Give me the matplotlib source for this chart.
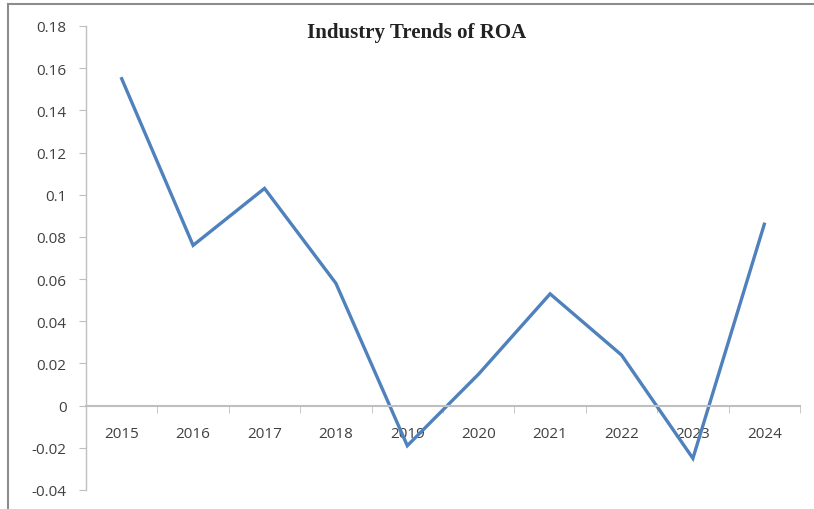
import matplotlib.pyplot as plt
from matplotlib.lines import Line2D

years = ['2015', '2016', '2017', '2018', '2019', '2020', '2021', '2022', '2023', '2024']
roa = [0.155, 0.076, 0.103, 0.058, -0.019, 0.015, 0.053, 0.024, -0.025, 0.086]
yticks = [-0.04, -0.02, 0, 0.02, 0.04, 0.06, 0.08, 0.1, 0.12, 0.14, 0.16, 0.18]
ylabels = ['-0.04', '-0.02', '0', '0.02', '0.04', '0.06', '0.08', '0.1', '0.12', '0.14', '0.16', '0.18']

fig = plt.figure(figsize=(8.14, 5.1), dpi=100)
ax = fig.add_axes([86 / 814, 1 - 491 / 510, (800 - 86) / 814, (491 - 27) / 510])

x = list(range(len(years)))
ax.plot(x, roa, color='#4F81BD', linewidth=2.4, solid_joinstyle='miter')

ax.set_xlim(-0.5, len(years) - 0.5)
ax.set_ylim(-0.04, 0.18)

# y axis
ax.set_yticks(yticks)
ax.set_yticklabels(ylabels, fontfamily='Open Sans', fontsize=11, color='#404040')
ax.tick_params(axis='y', length=5, color='#BFBFBF', pad=9)

# x axis sits on zero, ticks between categories
ax.spines['bottom'].set_position(('data', 0))
ax.set_xticks(x)
ax.set_xticklabels(years, fontfamily='Open Sans', fontsize=11, color='#404040')
ax.tick_params(axis='x', which='major', length=0, pad=15)
ax.set_xticks([i - 0.5 for i in range(len(years) + 1)], minor=True)
ax.tick_params(axis='x', which='minor', length=5, color='#BFBFBF', direction='out')

for s in ['top', 'right']:
    ax.spines[s].set_visible(False)
ax.spines['left'].set_color('#BFBFBF')
ax.spines['bottom'].set_color('#BFBFBF')
ax.spines['left'].set_linewidth(1)
ax.spines['bottom'].set_linewidth(1.5)

fig.text(417 / 814, 1 - 33 / 510, 'Industry Trends of ROA', ha='center', va='center',
         fontfamily='Liberation Serif', fontweight='bold', fontsize=15, color='#222222')

# outer frame
fig.add_artist(Line2D([8 / 814, 1], [1 - 5 / 510, 1 - 5 / 510], color='#8C8C8C', linewidth=1.5))
fig.add_artist(Line2D([8 / 814, 8 / 814], [0, 1 - 5 / 510], color='#8C8C8C', linewidth=1.5))

fig.savefig('out.png', dpi=100)
